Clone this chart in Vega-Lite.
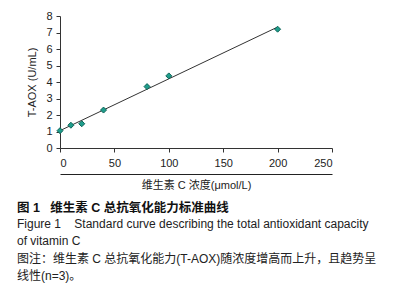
{
  "$schema": "https://vega.github.io/schema/vega-lite/v6.json",
  "width": 272,
  "height": 132,
  "autosize": "none",
  "padding": {"left": 60, "top": 16, "right": 69, "bottom": 152},
  "background": "white",
  "config": {
    "font": "Liberation Sans, Noto Sans CJK SC",
    "view": {"stroke": null},
    "axis": {
      "labelFont": "Liberation Sans, Noto Sans CJK SC",
      "titleFont": "Liberation Sans, Noto Sans CJK SC",
      "labelFontSize": 11,
      "titleFontSize": 11,
      "titleFontWeight": "normal",
      "labelColor": "#222",
      "titleColor": "#222",
      "domainColor": "#333",
      "tickColor": "#333",
      "grid": false
    }
  },
  "title": {
    "text": "图 1\u00a0\u00a0\u00a0维生素 C 总抗氧化能力标准曲线",
    "orient": "bottom",
    "anchor": "start",
    "frame": "group",
    "dx": -43,
    "offset": 12,
    "font": "Liberation Sans, Noto Sans CJK SC",
    "fontSize": 12.5,
    "fontWeight": "bold",
    "color": "#111",
    "subtitle": [
      "Figure 1\u00a0\u00a0\u00a0\u00a0Standard curve describing the total antioxidant capacity",
      "of vitamin C",
      "图注：维生素 C 总抗氧化能力(T-AOX)随浓度增高而上升，且趋势呈",
      "线性(n=3)。"
    ],
    "subtitleFont": "Liberation Sans, Noto Sans CJK SC",
    "subtitleFontSize": 12,
    "subtitleColor": "#222",
    "subtitleLineHeight": 17.5,
    "subtitlePadding": 4
  },
  "data": {
    "values": [
      {"conc": 0, "taox": 1.05},
      {"conc": 10, "taox": 1.38},
      {"conc": 20, "taox": 1.47},
      {"conc": 40, "taox": 2.3},
      {"conc": 80, "taox": 3.72},
      {"conc": 100, "taox": 4.37},
      {"conc": 200, "taox": 7.2}
    ]
  },
  "encoding": {
    "y": {
      "field": "taox",
      "type": "quantitative",
      "scale": {"domain": [0, 8], "nice": false},
      "axis": {
        "values": [0, 1, 2, 3, 4, 5, 6, 7, 8],
        "labelOverlap": false,
        "tickSize": 4,
        "labelPadding": 4,
        "title": "T-AOX (U/mL)",
        "titlePadding": 8
      }
    }
  },
  "layer": [
    {
      "mark": {"type": "line", "color": "#333", "strokeWidth": 1},
      "transform": [{"regression": "taox", "on": "conc", "extent": [0, 200]}],
      "encoding": {
        "x": {
          "field": "conc",
          "type": "quantitative",
          "scale": {"domain": [0, 250], "nice": false},
          "axis": {
            "orient": "bottom",
            "offset": 26,
            "domain": true,
            "ticks": true,
            "tickSize": 0,
            "tickOpacity": 0,
            "labels": true,
            "labelExpr": "''",
            "labelOpacity": 0,
            "title": null,
            "domainColor": "#222",
            "domainWidth": 1.2
          }
        }
      }
    },
    {
      "mark": {
        "type": "point",
        "shape": "diamond",
        "size": 36,
        "filled": true,
        "fill": "#1f9e8c",
        "stroke": "#0e6458",
        "strokeWidth": 1,
        "opacity": 1
      },
      "encoding": {
        "x": {
          "field": "conc",
          "type": "quantitative",
          "scale": {"domain": [0, 250], "nice": false},
          "axis": {
            "orient": "bottom",
            "values": [0, 50, 100, 150, 200, 250],
            "tickSize": 4,
            "labelPadding": 5,
            "title": "维生素 C 浓度(μmol/L)",
            "titlePadding": 11
          }
        }
      }
    }
  ],
  "resolve": {"scale": {"x": "independent"}, "axis": {"x": "independent"}}
}
